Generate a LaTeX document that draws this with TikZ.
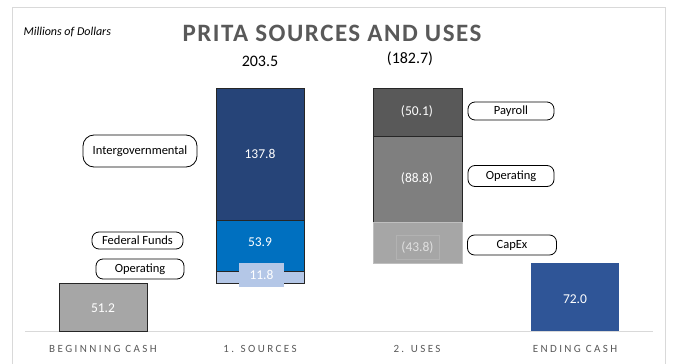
\documentclass[tikz,border=0pt]{standalone}
\usepackage{fontspec}
\setmainfont{Carlito}
\newfontfamily\titlefont[LetterSpace=6]{Carlito}
\newfontfamily\catfont[LetterSpace=22]{Carlito}
\usepackage{xcolor}
\usetikzlibrary{positioning}

\definecolor{navybar}{HTML}{264478}
\definecolor{fedblue}{HTML}{0070C0}
\definecolor{paleblue}{HTML}{B4C7E7}
\definecolor{endblue}{HTML}{2F5597}
\definecolor{payrollgray}{HTML}{595959}
\definecolor{opgray}{HTML}{7F7F7F}
\definecolor{capgray}{HTML}{A6A6A6}
\definecolor{titlegray}{HTML}{595959}
\definecolor{axisgray}{HTML}{D9D9D9}

\begin{document}
\begin{tikzpicture}[x=1pt,y=-1pt,
  barline/.style={draw=black!85,line width=0.9pt},
  callout/.style={draw=black,line width=0.8pt,fill=white,rounded corners=7pt,inner sep=0pt,font=\fontsize{12.5}{14}\selectfont},
  barval/.style={text=white,font=\fontsize{13.5}{15}\selectfont},
  catlabel/.style={text=black!65,font=\catfont\fontsize{11}{13}\selectfont}]

\useasboundingbox (0,0) rectangle (673,364);

% frame and axis
\draw[black!15] (12,7) rectangle (665,380);
\draw[axisgray, line width=0.9pt] (25,331) -- (653,331);

% titles
\node[anchor=west, font=\itshape\fontsize{12}{14}\selectfont] (unit) at (20,32) {Millions of Dollars};
\node[font=\titlefont\bfseries\fontsize{25}{29}\selectfont, text=titlegray] (title) at (332,33) {PRITA SOURCES AND USES};
\node[font=\fontsize{16}{18}\selectfont] (srctotal) at (260,61) {203.5};
\node[font=\fontsize{16}{18}\selectfont] (usetotal) at (410,59) {(182.7)};

% beginning cash
\draw[barline, fill=capgray] (59,283) rectangle (147,331);
\node[barval] (begval) at (103,308) {51.2};

% sources
\draw[barline, fill=navybar] (216,88) rectangle (304,220);
\draw[barline, fill=fedblue] (216,220) rectangle (304,271);
\draw[barline, fill=paleblue] (216,271) rectangle (304,283);
\node[barval] (intval) at (260,154) {137.8};
\node[barval] (fedval) at (260,242) {53.9};
\node[barval, fill=paleblue, minimum width=45pt, minimum height=24pt, inner sep=0pt] (opval) at (261.5,275) {11.8};

% uses
\draw[barline, fill=payrollgray] (373,88) rectangle (462,136);
\draw[barline, fill=opgray] (373,136) rectangle (462,222);
\draw[draw=black!25, fill=capgray] (373,222) rectangle (462,263);
\node[barval] (payval) at (417,111) {(50.1)};
\node[barval] (opuseval) at (417,178) {(88.8)};
\node[barval, text=black!12, draw=black!30, minimum width=43pt, minimum height=24pt, inner sep=0pt] (capval) at (417.5,247) {(43.8)};

% ending cash
\fill[endblue] (531,263) rectangle (619,331);
\node[barval] (endval) at (575,299) {72.0};

% callouts
\node[callout, minimum width=114pt, minimum height=32pt, rounded corners=11pt] (intergov) at (140,151) {Intergovernmental};
\node[callout, minimum width=91pt, minimum height=17pt] (fedfunds) at (137.5,240.5) {Federal Funds};
\node[callout, minimum width=88pt, minimum height=20pt] (opsrc) at (140,269) {Operating};
\node[callout, minimum width=86pt, minimum height=18pt] (payroll) at (511,111) {Payroll};
\node[callout, minimum width=86pt, minimum height=21pt] (opuse) at (511,176) {Operating};
\node[callout, minimum width=89pt, minimum height=20pt] (capex) at (512,245) {CapEx};

% categories
\node[catlabel] (begcash) at (103,349) {BEGINNING CASH};
\node[catlabel] (sources) at (260,349) {1. SOURCES};
\node[catlabel] (uses) at (417,349) {2. USES};
\node[catlabel] (endcash) at (575,349) {ENDING CASH};

\end{tikzpicture}
\end{document}
